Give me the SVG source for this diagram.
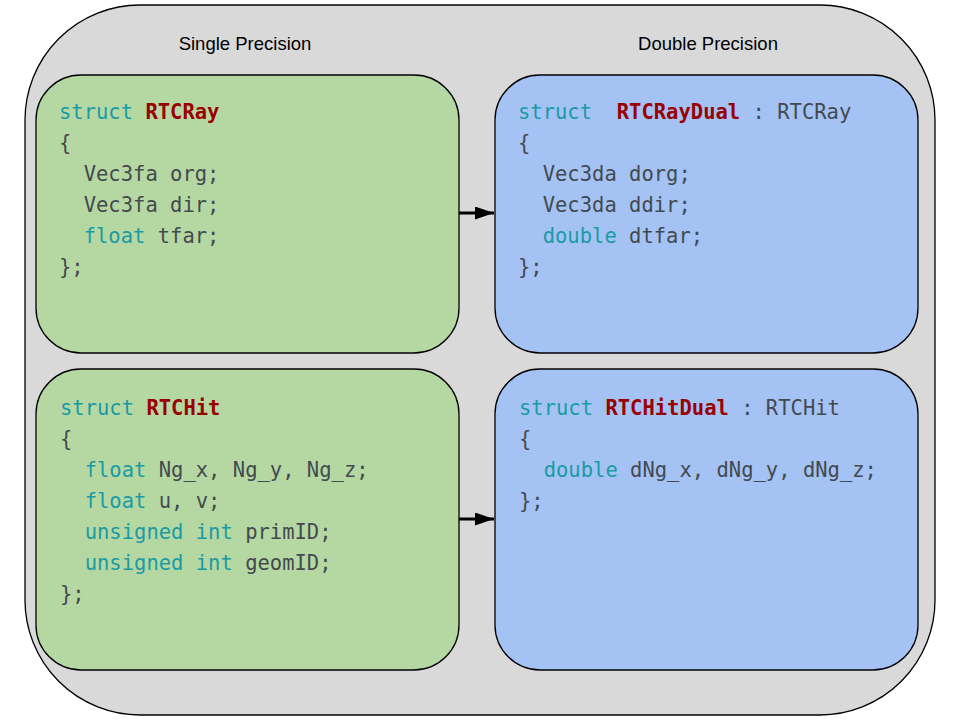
<svg xmlns="http://www.w3.org/2000/svg" width="960" height="720" viewBox="0 0 960 720">
<style>
.box{stroke:#000;stroke-width:1.3}
.g{fill:#b5d8a3}
.b{fill:#a4c2f4}
.code{font-family:"DejaVu Sans Mono","Liberation Mono",monospace;font-size:20.5px;fill:#434a4f;white-space:pre}
.kw{fill:#1a9ba3}
.nm{fill:#990000;font-weight:bold}
.hdr{font-family:"Liberation Sans",Arial,sans-serif;font-size:18.5px;fill:#000;text-anchor:middle}
</style>
<defs>
<marker id="ah" markerWidth="19" markerHeight="13" refX="19" refY="6.5" orient="auto" markerUnits="userSpaceOnUse" viewBox="0 0 19 13">
<path d="M0,0 L19,6.5 L0,13 Z" fill="#000"/>
</marker>
</defs>
<g id="container">
<rect x="25" y="5" width="910" height="710" rx="115" ry="115" fill="#d9d9d9" stroke="#000" stroke-width="1.3"/>
<text class="hdr" x="245" y="50">Single Precision</text>
<text class="hdr" x="708" y="50">Double Precision</text>
</g>
<g id="rtcray">
<rect class="box g" x="36" y="75" width="423" height="278" rx="45" ry="45"/>
<text class="code" x="59" y="119"><tspan class="kw">struct</tspan> <tspan class="nm">RTCRay</tspan></text>
<text class="code" x="59" y="150">{</text>
<text class="code" x="59" y="181">  Vec3fa org;</text>
<text class="code" x="59" y="212">  Vec3fa dir;</text>
<text class="code" x="59" y="243">  <tspan class="kw">float</tspan> tfar;</text>
<text class="code" x="59" y="274">};</text>
</g>
<g id="rtcraydual">
<rect class="box b" x="495" y="75" width="423" height="278" rx="45" ry="45"/>
<text class="code" x="518" y="119"><tspan class="kw">struct</tspan>  <tspan class="nm">RTCRayDual</tspan> : RTCRay</text>
<text class="code" x="518" y="150">{</text>
<text class="code" x="518" y="181">  Vec3da dorg;</text>
<text class="code" x="518" y="212">  Vec3da ddir;</text>
<text class="code" x="518" y="243">  <tspan class="kw">double</tspan> dtfar;</text>
<text class="code" x="518" y="274">};</text>
</g>
<g id="rtchit">
<rect class="box g" x="36" y="369" width="423" height="301" rx="45" ry="45"/>
<text class="code" x="60" y="415"><tspan class="kw">struct</tspan> <tspan class="nm">RTCHit</tspan></text>
<text class="code" x="60" y="446">{</text>
<text class="code" x="60" y="477">  <tspan class="kw">float</tspan> Ng_x, Ng_y, Ng_z;</text>
<text class="code" x="60" y="508">  <tspan class="kw">float</tspan> u, v;</text>
<text class="code" x="60" y="539">  <tspan class="kw">unsigned int</tspan> primID;</text>
<text class="code" x="60" y="570">  <tspan class="kw">unsigned int</tspan> geomID;</text>
<text class="code" x="60" y="601">};</text>
</g>
<g id="rtchitdual">
<rect class="box b" x="495" y="369" width="423" height="301" rx="45" ry="45"/>
<text class="code" x="519" y="415"><tspan class="kw">struct</tspan> <tspan class="nm">RTCHitDual</tspan> : RTCHit</text>
<text class="code" x="519" y="446">{</text>
<text class="code" x="519" y="477">  <tspan class="kw">double</tspan> dNg_x, dNg_y, dNg_z;</text>
<text class="code" x="519" y="508">};</text>
</g>
<g id="connectors" stroke="#000" stroke-width="3" fill="none">
<line x1="459" y1="213" x2="494" y2="213" marker-end="url(#ah)"/>
<line x1="459" y1="519" x2="494" y2="519" marker-end="url(#ah)"/>
</g>
</svg>
